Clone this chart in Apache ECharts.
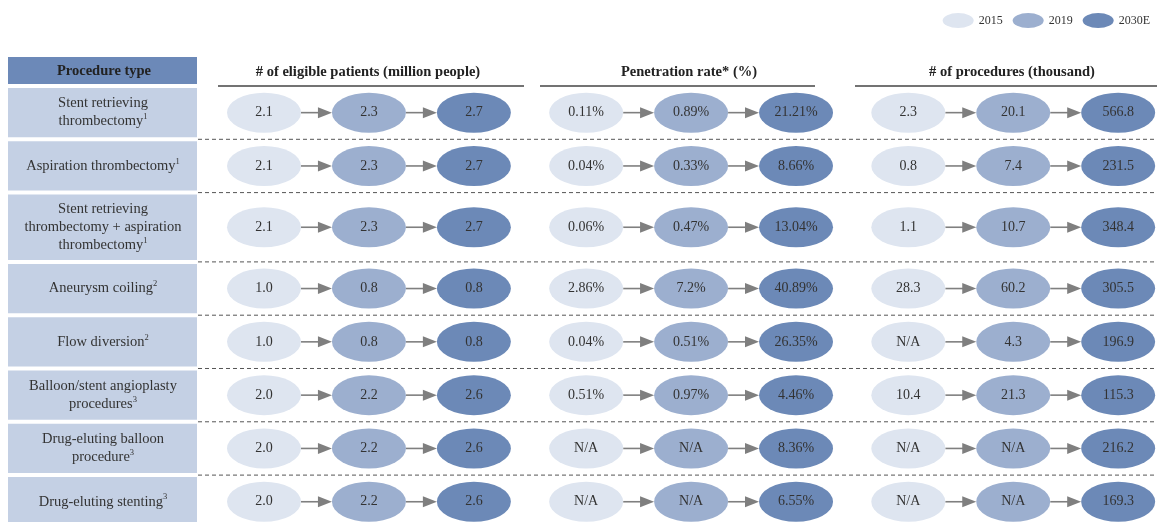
<!DOCTYPE html>
<html>
<head>
<meta charset="utf-8">
<script src="https://cdn.jsdelivr.net/npm/echarts@6/dist/echarts.min.js"></script>
<style>
  html, body { margin: 0; padding: 0; background: #fff; }
  #main { width: 1157px; height: 522px; }
</style>
</head>
<body>
<div id="main"></div>
<script>
// row labels ({s|n} = footnote mark)
var procedures = [
  'Stent retrieving\nthrombectomy{s|1}',
  'Aspiration thrombectomy{s|1}',
  'Stent retrieving\nthrombectomy + aspiration\nthrombectomy{s|1}',
  'Aneurysm coiling{s|2}',
  'Flow diversion{s|2}',
  'Balloon/stent angioplasty\nprocedures{s|3}',
  'Drug-eluting balloon\nprocedure{s|3}',
  'Drug-eluting stenting{s|3}'
]
var years = ['2015', '2019', '2030E']
var metrics = ['# of eligible patients (million people)', 'Penetration rate* (%)', '# of procedures (thousand)']

// eligible patients, million
var patients2015 = [2.1, 2.1, 2.1, 1.0, 1.0, 2.0, 2.0, 2.0]
var patients2019 = [2.3, 2.3, 2.3, 0.8, 0.8, 2.2, 2.2, 2.2]
var patients2030 = [2.7, 2.7, 2.7, 0.8, 0.8, 2.6, 2.6, 2.6]
// penetration rate, % (null = N/A)
var rate2015 = [0.11, 0.04, 0.06, 2.86, 0.04, 0.51, null, null]
var rate2019 = [0.89, 0.33, 0.47, 7.2, 0.51, 0.97, null, null]
var rate2030 = [21.21, 8.66, 13.04, 40.89, 26.35, 4.46, 8.36, 6.55]
// procedures, thousand
var proc2015 = [2.3, 0.8, 1.1, 28.3, null, 10.4, null, null]
var proc2019 = [20.1, 7.4, 10.7, 60.2, 4.3, 21.3, null, null]
var proc2030 = [566.8, 231.5, 348.4, 305.5, 196.9, 115.3, 216.2, 169.3]

var byYear = [
  [patients2015, rate2015, proc2015],
  [patients2019, rate2019, proc2019],
  [patients2030, rate2030, proc2030]
]
var colors = ['#dee5f0', '#9cafcf', '#6c89b7']
var ellipse = 'path://M0,1a1,1 0 1,0 2,0a1,1 0 1,0 -2,0z'
var groupStep = 3.07
var serif = '"Liberation Serif", "Times New Roman", serif'

function fmt(v, m) {
  if (v == null) return 'N/A'
  if (m === 1) return String(v) + '%'
  return v.toFixed(1)
}

// row extents in axis units; three-line rows are taller
var rowStart = [], rowEnd = [], rowMid = []
var acc = 0
procedures.forEach(function (p) {
  var h = p.split('\n').length > 2 ? 1.3 : 1
  rowStart.push(acc)
  rowMid.push(acc + h / 2)
  acc += h
  rowEnd.push(acc)
})

var chart = echarts.init(document.getElementById('main'))

var series = []

// left column boxes and dashed separators
series.push({
  type: 'custom',
  silent: true,
  data: procedures.map(function (p, i) { return [0, rowStart[i], rowEnd[i]] }),
  encode: { x: 0, y: [1, 2] },
  renderItem: function (params, api) {
    var i = params.dataIndex
    var top = api.coord([0, api.value(1)])[1]
    var bot = api.coord([0, api.value(2)])[1]
    var kids = [{
      type: 'rect',
      shape: { x: 8, y: top + 2, width: 189, height: bot - top - 4 },
      style: { fill: '#c4d0e4' }
    }, {
      type: 'text',
      style: {
        x: 103, y: (top + bot) / 2,
        text: procedures[i],
        align: 'center', verticalAlign: 'middle',
        font: '14.5px ' + serif,
        lineHeight: 18,
        fill: '#333',
        rich: { s: { fontSize: 8.5, verticalAlign: 'top', fill: '#333', fontFamily: 'Liberation Serif' } }
      }
    }]
    if (i < procedures.length - 1) {
      kids.push({
        type: 'line',
        shape: { x1: 198, y1: bot, x2: 1157, y2: bot },
        style: { stroke: '#555', lineWidth: 1, lineDash: [4, 3] }
      })
    }
    return { type: 'group', children: kids }
  }
})

// arrows between consecutive years
var arrows = []
for (var g = 0; g < 3; g++) {
  for (var r = 0; r < procedures.length; r++) {
    for (var k = 0; k < 2; k++) {
      arrows.push([g * groupStep + k, rowMid[r], g * groupStep + k + 1])
    }
  }
}
series.push({
  type: 'custom',
  silent: true,
  data: arrows,
  encode: { x: [0, 2], y: 1 },
  renderItem: function (params, api) {
    var a = api.coord([api.value(0), api.value(1)])
    var b = api.coord([api.value(2), api.value(1)])
    var x1 = a[0] + 37, x2 = b[0] - 37, y = a[1]
    return {
      type: 'group',
      children: [{
        type: 'line',
        shape: { x1: x1, y1: y, x2: x2 - 8, y2: y },
        style: { stroke: '#7f7f7f', lineWidth: 1.6 }
      }, {
        type: 'polygon',
        shape: { points: [[x2 - 14, y - 5.5], [x2, y], [x2 - 14, y + 5.5]] },
        style: { fill: '#7f7f7f' }
      }]
    }
  }
})

// ellipses, one series per year
years.forEach(function (yr, yi) {
  var data = []
  for (var g = 0; g < 3; g++) {
    byYear[yi][g].forEach(function (v, r) {
      data.push({ value: [g * groupStep + yi, rowMid[r]], label: { formatter: fmt(v, g) } })
    })
  }
  series.push({
    name: yr,
    type: 'scatter',
    symbol: ellipse,
    symbolSize: [74, 40],
    itemStyle: { color: colors[yi], opacity: 1 },
    label: {
      show: true,
      position: 'inside',
      color: '#333',
      textBorderWidth: 0,
      fontSize: 14,
      fontFamily: 'Liberation Serif'
    },
    emphasis: { disabled: true },
    data: data
  })
})

chart.setOption({
  animation: false,
  legend: {
    data: years,
    right: 2,
    top: 8,
    icon: ellipse,
    symbolKeepAspect: false,
    itemWidth: 31,
    itemHeight: 15,
    itemGap: 10,
    textStyle: { fontFamily: 'Liberation Serif', fontSize: 12, color: '#333' }
  },
  grid: { left: 200, right: 0, top: 86, bottom: 0 },
  xAxis: { type: 'value', min: -0.61, max: 8.51, show: false },
  yAxis: { type: 'value', min: 0, max: 8.18, inverse: true, show: false },
  graphic: [
    { type: 'rect', shape: { x: 8, y: 57, width: 189, height: 27 }, style: { fill: '#6c89b8' } },
    { type: 'text', style: { x: 104, y: 71, text: 'Procedure type', align: 'center', verticalAlign: 'middle',
        font: 'bold 14.5px ' + serif, fill: '#222' } },
    { type: 'text', style: { x: 368, y: 72, text: metrics[0], align: 'center', verticalAlign: 'middle',
        font: 'bold 14.5px ' + serif, fill: '#222' } },
    { type: 'text', style: { x: 689, y: 72, text: metrics[1], align: 'center', verticalAlign: 'middle',
        font: 'bold 14.5px ' + serif, fill: '#222' } },
    { type: 'text', style: { x: 1012, y: 72, text: metrics[2], align: 'center', verticalAlign: 'middle',
        font: 'bold 14.5px ' + serif, fill: '#222' } },
    { type: 'line', shape: { x1: 218, y1: 86, x2: 524, y2: 86 }, style: { stroke: '#444', lineWidth: 1.5 } },
    { type: 'line', shape: { x1: 540, y1: 86, x2: 815, y2: 86 }, style: { stroke: '#444', lineWidth: 1.5 } },
    { type: 'line', shape: { x1: 855, y1: 86, x2: 1157, y2: 86 }, style: { stroke: '#444', lineWidth: 1.5 } }
  ],
  series: series
})
</script>
</body>
</html>
